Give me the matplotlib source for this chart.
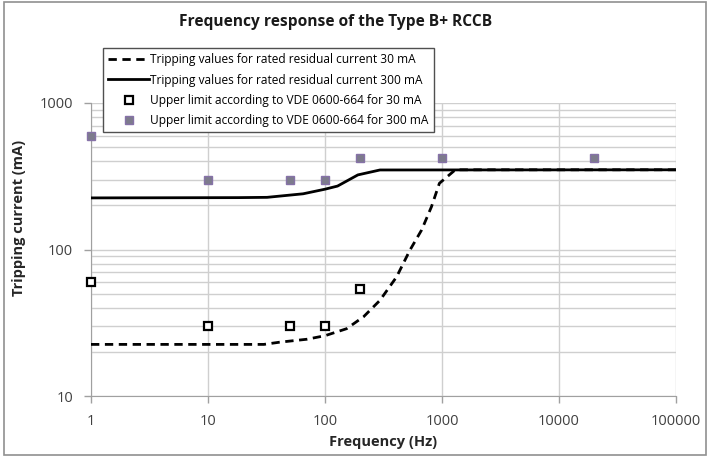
import matplotlib
matplotlib.use("Agg")
import matplotlib.pyplot as plt
from matplotlib.patches import Rectangle
from matplotlib.ticker import LogLocator, NullFormatter, FixedLocator, FixedFormatter

plt.rcParams['font.family'] = ['Open Sans', 'DejaVu Sans']

# Curva de disparo 30 mA (Hz, mA)
f_30 = [1, 30, 41, 70, 100, 153, 214, 295, 409, 532, 670, 813, 950, 1300, 100000]
i_30 = [22.5, 22.5, 23.3, 24.4, 25.8, 28.8, 34.8, 45, 65, 99, 136, 196, 283, 350, 350]

# Curva de disparo 300 mA
f_300 = [1, 18, 32, 65, 100, 128, 191, 295, 100000]
i_300 = [225, 226, 227, 240, 258, 271, 323, 349, 350]

# Limites VDE 0600-664
f_lim30 = [1, 10, 50, 100, 200]
i_lim30 = [60, 30, 30, 30, 54]
f_lim300 = [1, 10, 50, 100, 200, 1000, 20000]
i_lim300 = [600, 300, 300, 300, 420, 420, 420]

x_ticks = [1, 10, 100, 1000, 10000, 100000]
x_labels = ['1', '10', '100', '1000', '10000', '100000']
y_ticks = [10, 100, 1000]
y_labels = ['10', '100', '1000']

W, H = 711, 457
fig = plt.figure(figsize=(W / 100, H / 100), dpi=100)
ax = fig.add_axes([91 / W, 1 - 396 / H, (676 - 91) / W, (396 - 103) / H])

grid_c = '#cfcfcf'
ax.plot(f_30, i_30, color='black', lw=2, ls=(0, (3, 2)), zorder=3,
        label='Tripping values for rated residual current 30 mA')
ax.plot(f_300, i_300, color='black', lw=2, zorder=3,
        label='Tripping values for rated residual current 300 mA')
ax.plot(f_lim30, i_lim30, ls='none', marker='s', ms=5.2, mfc='white', mec='black',
        mew=1.6, zorder=4, clip_on=False, label='Upper limit according to VDE 0600-664 for 30 mA')
ax.plot(f_lim300, i_lim300, ls='none', marker='s', ms=5.8, mfc='#7d7b8c', mec='#8672a8',
        mew=1.0, zorder=4, clip_on=False, label='Upper limit according to VDE 0600-664 for 300 mA')

ax.set_xscale('log')
ax.set_yscale('log')
ax.set_xlim(1, 100000)
ax.set_ylim(10, 1000)
ax.xaxis.set_major_locator(FixedLocator(x_ticks))
ax.xaxis.set_major_formatter(FixedFormatter(x_labels))
ax.xaxis.set_minor_locator(FixedLocator([]))
ax.yaxis.set_major_locator(FixedLocator(y_ticks))
ax.yaxis.set_major_formatter(FixedFormatter(y_labels))
ax.yaxis.set_minor_locator(LogLocator(base=10, subs=range(2, 10)))
ax.yaxis.set_minor_formatter(NullFormatter())
ax.tick_params(which='major', length=5, width=1, color='#a0a0a0',
               labelsize=10.5, labelcolor='#404040', pad=8)
ax.tick_params(which='minor', length=0)
ax.grid(True, which='major', color=grid_c, lw=1)
ax.grid(True, which='minor', axis='y', color=grid_c, lw=1)
ax.set_axisbelow(True)
for s in ['top', 'right']:
    ax.spines[s].set_visible(False)
for s in ['left', 'bottom']:
    ax.spines[s].set_color('#a0a0a0')

ax.set_xlabel('Frequency (Hz)', fontsize=10.5, fontweight='bold', color='#262626', labelpad=4)
fig.text(19 / W, 1 - 218 / H, 'Tripping current (mA)', rotation=90, fontsize=10.5,
         fontweight='bold', color='#262626', ha='center', va='center')
fig.text(336 / W, 1 - 22 / H, 'Frequency response of the Type B+ RCCB', fontsize=11.2,
         fontweight='bold', color='#1a1a1a', ha='center', va='center')

leg = ax.legend(loc='upper left', bbox_to_anchor=(103 / W, 1 - 48 / H),
                bbox_transform=fig.transFigure, borderaxespad=0, fontsize=8.6,
                frameon=True, fancybox=False, edgecolor='#505050', framealpha=1,
                handlelength=3.4, handletextpad=0.1, numpoints=1, labelspacing=0.6,
                borderpad=0.45)
leg.get_frame().set_linewidth(1)
leg.set_zorder(10)

fig.patches.append(Rectangle((4 / W, 1 - 455 / H), 702 / W, 453 / H, transform=fig.transFigure,
                             fill=False, edgecolor='#909090', lw=1.2))

fig.savefig('out.png', dpi=100)
